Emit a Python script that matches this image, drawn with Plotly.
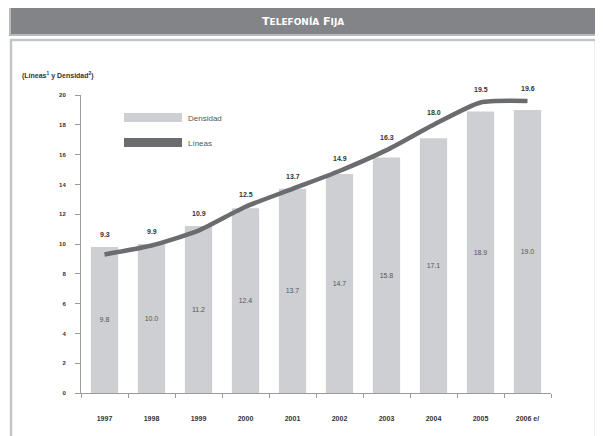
import plotly.graph_objects as go

years = ["1997", "1998", "1999", "2000", "2001", "2002", "2003", "2004", "2005", "2006 e/"]
densidad = [9.8, 10.0, 11.2, 12.4, 13.7, 14.7, 15.8, 17.1, 18.9, 19.0]
lineas = [9.3, 9.9, 10.9, 12.5, 13.7, 14.9, 16.3, 18.0, 19.5, 19.6]
yticks = [0, 2, 4, 6, 8, 10, 12, 14, 16, 18, 20]

O = 8  # page body margin offset
W, H = 603 - 2 * O, 436 - O
L, R, T, B = 81 - O, 551 - O, 95 - O, 393 - O  # plot area in figure pixels

def px(x):
    return (x - O - L) / (R - L)

def py(y):
    return (B - (y - O)) / (B - T)

bar_col = "#cdcfd3"
line_col = "#6b6c70"
txt_col = "#333335"
font = "Liberation Sans, Arial"

fig = go.Figure()
fig.add_trace(go.Bar(
    x=years, y=densidad, name="Densidad",
    marker=dict(color=bar_col, line=dict(width=0)),
    width=0.58,
    text=[f"{v:.1f}" for v in densidad],
    textposition="inside", insidetextanchor="middle",
    textfont=dict(family=font, size=7, color="#55565a"),
    textangle=0,
    showlegend=False,
))
fig.add_trace(go.Scatter(
    x=years, y=lineas, name="Líneas", mode="lines",
    line=dict(color=line_col, width=4.5, shape="spline", smoothing=0.6),
    showlegend=False,
))

annotations = []
for i, (d, l) in enumerate(zip(densidad, lineas)):
    annotations.append(dict(
        x=i, y=max(d, l), xref="x", yref="y", text=f"<b>{l:.1f}</b>",
        showarrow=False, yanchor="bottom", yshift=7,
        font=dict(family=font, size=7, color=txt_col),
    ))

shapes = []
shapes.append(dict(type="rect", xref="paper", yref="paper",
                   x0=px(10), x1=px(597), y0=py(7), y1=py(35),
                   fillcolor="#838487", line=dict(color="#b9babc", width=2), layer="below"))
shapes.append(dict(type="rect", xref="paper", yref="paper",
                   x0=px(11), x1=px(596), y0=py(40), y1=py(445),
                   fillcolor="rgba(0,0,0,0)", line=dict(color="#c4c5c7", width=2.5), layer="below"))
shapes.append(dict(type="rect", xref="paper", yref="paper",
                   x0=px(124), x1=px(182), y0=py(113), y1=py(122),
                   fillcolor=bar_col, line=dict(width=0)))
shapes.append(dict(type="rect", xref="paper", yref="paper",
                   x0=px(124), x1=px(182), y0=py(138), y1=py(147),
                   fillcolor=line_col, line=dict(width=0)))

small = "font-size:9px"
annotations += [
    dict(xref="paper", yref="paper", x=px(303), y=py(21),
         text=f"<b>T<span style='{small}'>ELEFONÍA</span> F<span style='{small}'>IJA</span></b>",
         showarrow=False, font=dict(family="DejaVu Sans, Verdana", size=11, color="white"),
         xanchor="center", yanchor="middle"),
    dict(xref="paper", yref="paper", x=px(20), y=py(76),
         text="<b>(Líneas<sup>1</sup> y Densidad<sup>2</sup>)</b>",
         showarrow=False, font=dict(family=font, size=7, color=txt_col),
         xanchor="left", yanchor="middle"),
    dict(xref="paper", yref="paper", x=px(186), y=py(118), text="Densidad",
         showarrow=False, font=dict(family=font, size=8, color="#555659"),
         xanchor="left", yanchor="middle"),
    dict(xref="paper", yref="paper", x=px(186), y=py(143), text="Líneas",
         showarrow=False, font=dict(family=font, size=8, color="#555659"),
         xanchor="left", yanchor="middle"),
]

fig.update_layout(
    width=W, height=H,
    margin=dict(l=L, r=W - R, t=T, b=H - B),
    paper_bgcolor="white", plot_bgcolor="white",
    shapes=shapes, annotations=annotations,
    xaxis=dict(
        type="category", tickson="boundaries", ticks="outside", ticklen=4,
        tickcolor="#9a9b9d", showline=True, linecolor="#9a9b9d", linewidth=1,
        showgrid=False, ticklabelstandoff=19,
        tickfont=dict(family=font, size=7, color=txt_col),
    ),
    yaxis=dict(
        range=[0, 20], tickvals=yticks, ticktext=[f"<b>{v}</b>" for v in yticks],
        ticks="outside", ticklen=5, tickcolor="#9a9b9d",
        showline=True, linecolor="#9a9b9d", linewidth=1, showgrid=False,
        zeroline=False, ticklabelstandoff=8,
        tickfont=dict(family=font, size=6, color=txt_col),
    ),
)
fig.update_xaxes(tickvals=years, ticktext=[f"<b>{y}</b>" for y in years])

fig.write_html("out.html")
